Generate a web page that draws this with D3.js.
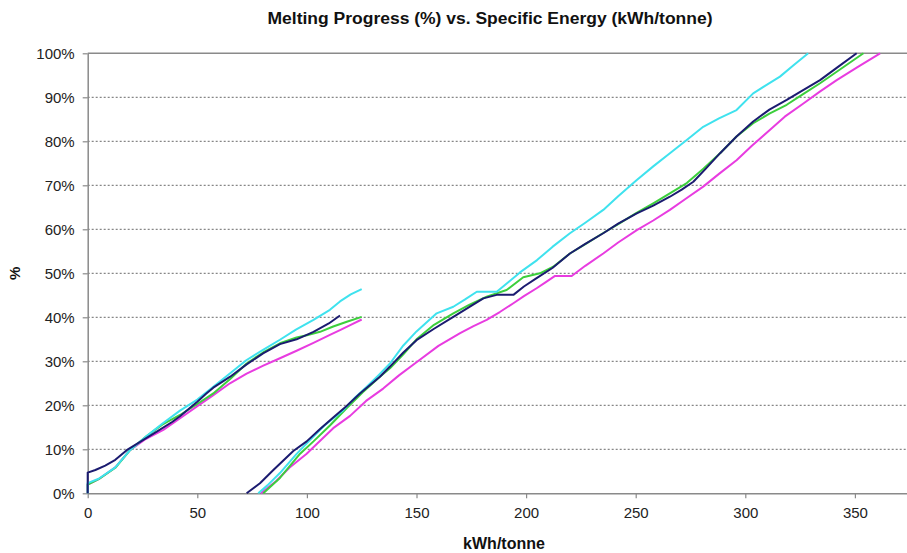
<!DOCTYPE html>
<html>
<head>
<meta charset="utf-8">
<script src="https://cdn.jsdelivr.net/npm/d3@7"></script>
<style>
  html, body { margin: 0; padding: 0; background: #fff; }
  svg { display: block; }
  text { font-family: "Liberation Sans", Arial, sans-serif; }
</style>
</head>
<body>
<svg id="chart" width="907" height="553"></svg>
<script>
// ---- Data (kWh/tonne, melting %) ----
const xTicks = [0, 50, 100, 150, 200, 250, 300, 350];
const yTicks = [0, 10, 20, 30, 40, 50, 60, 70, 80, 90, 100];

const navyFirst = [[0,0],[0,4.7],[3.5,5.3],[8,6.3],[12.6,7.6],[17.8,9.8],[23.9,11.7],[31.5,14],[38.5,16.2],[42.1,17.5],[50,20.8],[54,22.6],[57.3,24],[65,26.5],[72.5,29.3],[80,31.8],[87.7,33.9],[95.3,35],[103,36.7],[110,38.6],[115.1,40.4]];
const navySecond = [[72.5,0],[78.6,2.3],[84.7,5.3],[93.8,9.6],[99.9,11.8],[106,14.6],[112,17.2],[118,19.8],[124.2,22.7],[133.3,26.5],[137.9,28.8],[144,32],[150,34.8],[158,37.4],[166.8,40.1],[174,42.3],[180.5,44.3],[186.6,45.1],[194.2,45.1],[199,47],[204.8,48.9],[212,51.2],[220,54.5],[227,56.7],[235.2,59.1],[242,61.3],[250.5,63.6],[258,65.4],[265.6,67.4],[271,69],[276.3,70.8],[282,73.8],[288.5,77.3],[296,81.1],[303.6,84.5],[311,87.2],[318.9,89.4],[326,91.5],[334.1,93.9],[342,96.8],[350.8,100]];

const cyanFirst = [[0,0],[0,2.3],[5,3.3],[12.6,5.9],[19.3,9.8],[26.9,13],[34,15.8],[42.1,18.8],[50,21.3],[57.3,24.2],[65,27.3],[72.5,30.3],[80,32.6],[87.7,34.9],[95,37.2],[103,39.4],[110.5,41.7],[115.1,43.6],[120,45.2],[125,46.4]];
const cyanSecond = [[77.8,0],[82,1.8],[87.7,4.6],[95,8.8],[101.4,12.1],[108,15.4],[116.6,18.9],[122,21.8],[127.3,24.2],[132.6,26.8],[137.9,29.5],[144,33.6],[150,36.8],[159.2,40.9],[166.8,42.4],[172,44],[177.5,45.8],[186.6,45.8],[192,48],[197.2,50.2],[205,53],[212,56],[220,59.1],[227,61.5],[235.2,64.4],[242,67.5],[250.5,71.2],[258,74.3],[265.6,77.3],[273,80.2],[280.8,83.3],[288,85.2],[296,87.1],[303.6,90.9],[309,92.6],[315.8,94.7],[322,97.3],[328.7,100]];

const greenFirst = [[0,0],[0,2],[5,3.2],[12.6,5.8],[19.3,9.8],[26.9,13],[34,15.6],[42.1,17.8],[50,20.3],[57.3,22.7],[65,26],[72.5,29.5],[80,32],[87.7,34.1],[95.3,35.4],[100,35.9],[106,36.7],[112,37.9],[118.2,39],[125,40.1]];
const greenSecond = [[80.1,0],[87.7,3.5],[96.9,9],[103,11.8],[110.5,15.4],[118.2,19.4],[125.6,23],[133.3,26.5],[137.9,28.4],[144,31.6],[150,35],[158,38.3],[166.8,40.9],[174,42.8],[182,44.7],[191.1,46.2],[198.7,49.1],[206.3,50],[212.4,51.5],[220,54.5],[227.6,56.8],[235,59.1],[242.8,61.4],[250,63.6],[258,65.9],[265,68],[273.3,70.5],[281,73.8],[288.5,77.3],[296,81.1],[303.6,84.1],[311,86.3],[318.9,88.3],[326,90.6],[334.1,93.2],[344,96.6],[353.9,100]];

const magentaFirst = [[0,0],[0,2],[5,3.2],[12.6,5.9],[19.3,9.8],[26,12.2],[34.5,14.4],[42,17],[49.7,19.7],[57,22.2],[64.9,25],[72.5,27.2],[80.1,29],[87.7,30.7],[95.3,32.4],[103,34.2],[110.5,36],[115.1,37.1],[120,38.3],[125,39.5]];
const magentaSecond = [[79,0],[86,2.8],[92,5.8],[99.9,9],[104.5,11.2],[112,14.8],[119.7,17.6],[127,21],[134.8,23.8],[142,26.8],[150,29.8],[160,33.5],[169.9,36.4],[176,38],[182,39.4],[188,41.2],[194.2,43.2],[199,44.8],[204.8,46.6],[209,48],[213.2,49.4],[220.8,49.4],[227,51.7],[235.2,54.5],[242,57],[250.5,59.8],[258,62],[265.6,64.4],[273,67],[280.8,69.7],[288,72.6],[296,75.7],[303,79],[311.3,82.6],[318,85.6],[326.5,88.6],[334,91.3],[341.7,93.9],[351,96.8],[361.5,100]];

const seriesList = [
  { color: "#e83ce0", parts: [magentaFirst, magentaSecond] },
  { color: "#3ccf3c", parts: [greenFirst, greenSecond] },
  { color: "#3fe2ee", parts: [cyanFirst, cyanSecond] },
  { color: "#1b1b70", parts: [navyFirst, navySecond] }
];

// ---- Layout ----
const svg = d3.select("#chart");
const x0 = 87.7, xPerUnit = 2.192, xRight = 907;
const x = d3.scaleLinear().domain([0, (xRight - x0) / xPerUnit]).range([x0, xRight]);
const y = d3.scaleLinear().domain([0, 100]).range([493.3, 53.3]);

// gridlines
svg.append("g").selectAll("line")
  .data(yTicks.filter(v => v > 0 && v < 100))
  .join("line")
  .attr("x1", x0).attr("x2", xRight)
  .attr("y1", d => y(d)).attr("y2", d => y(d))
  .attr("stroke", "#6a6a6a").attr("stroke-width", 1)
  .attr("stroke-dasharray", "2,2");

// top border
svg.append("line")
  .attr("x1", x0).attr("x2", xRight)
  .attr("y1", y(100)).attr("y2", y(100))
  .attr("stroke", "#8a8a8a").attr("stroke-width", 1.5);

// axes
const axisColor = "#8a8a8a";
const xAxis = svg.append("g")
  .attr("transform", `translate(0,${y(0)})`)
  .call(d3.axisBottom(x).tickValues(xTicks).tickSize(5).tickSizeOuter(0).tickPadding(9));
const yAxis = svg.append("g")
  .attr("transform", `translate(${x0},0)`)
  .call(d3.axisLeft(y).tickValues(yTicks).tickSize(5).tickSizeOuter(0).tickPadding(8)
    .tickFormat(d => d + "%"));

[xAxis, yAxis].forEach(g => {
  g.select(".domain").attr("stroke", axisColor).attr("stroke-width", 1.5);
  g.selectAll(".tick line").attr("stroke", axisColor).attr("stroke-width", 1.2);
  g.selectAll(".tick text")
    .attr("fill", "#222")
    .style("font-family", "'Liberation Sans', Arial, sans-serif")
    .style("font-size", "15px");
});

// lines
const line = d3.line().x(d => x(d[0])).y(d => y(d[1]));
seriesList.forEach(s => {
  s.parts.forEach(p => {
    svg.append("path")
      .datum(p)
      .attr("d", line)
      .attr("fill", "none")
      .attr("stroke", s.color)
      .attr("stroke-width", 2)
      .attr("stroke-linejoin", "round");
  });
});

// titles
svg.append("text")
  .attr("x", 490).attr("y", 24)
  .attr("text-anchor", "middle")
  .attr("textLength", 445).attr("lengthAdjust", "spacingAndGlyphs")
  .style("font-size", "16px").style("font-weight", "bold")
  .attr("fill", "#111")
  .text("Melting Progress (%) vs. Specific Energy (kWh/tonne)");

svg.append("text")
  .attr("x", 504).attr("y", 549)
  .attr("text-anchor", "middle")
  .style("font-size", "16px").style("font-weight", "bold")
  .attr("fill", "#111")
  .text("kWh/tonne");

svg.append("text")
  .attr("transform", `translate(20,${y(50)}) rotate(-90)`)
  .attr("text-anchor", "middle")
  .style("font-size", "15px").style("font-weight", "bold")
  .attr("fill", "#111")
  .text("%");
</script>
</body>
</html>
